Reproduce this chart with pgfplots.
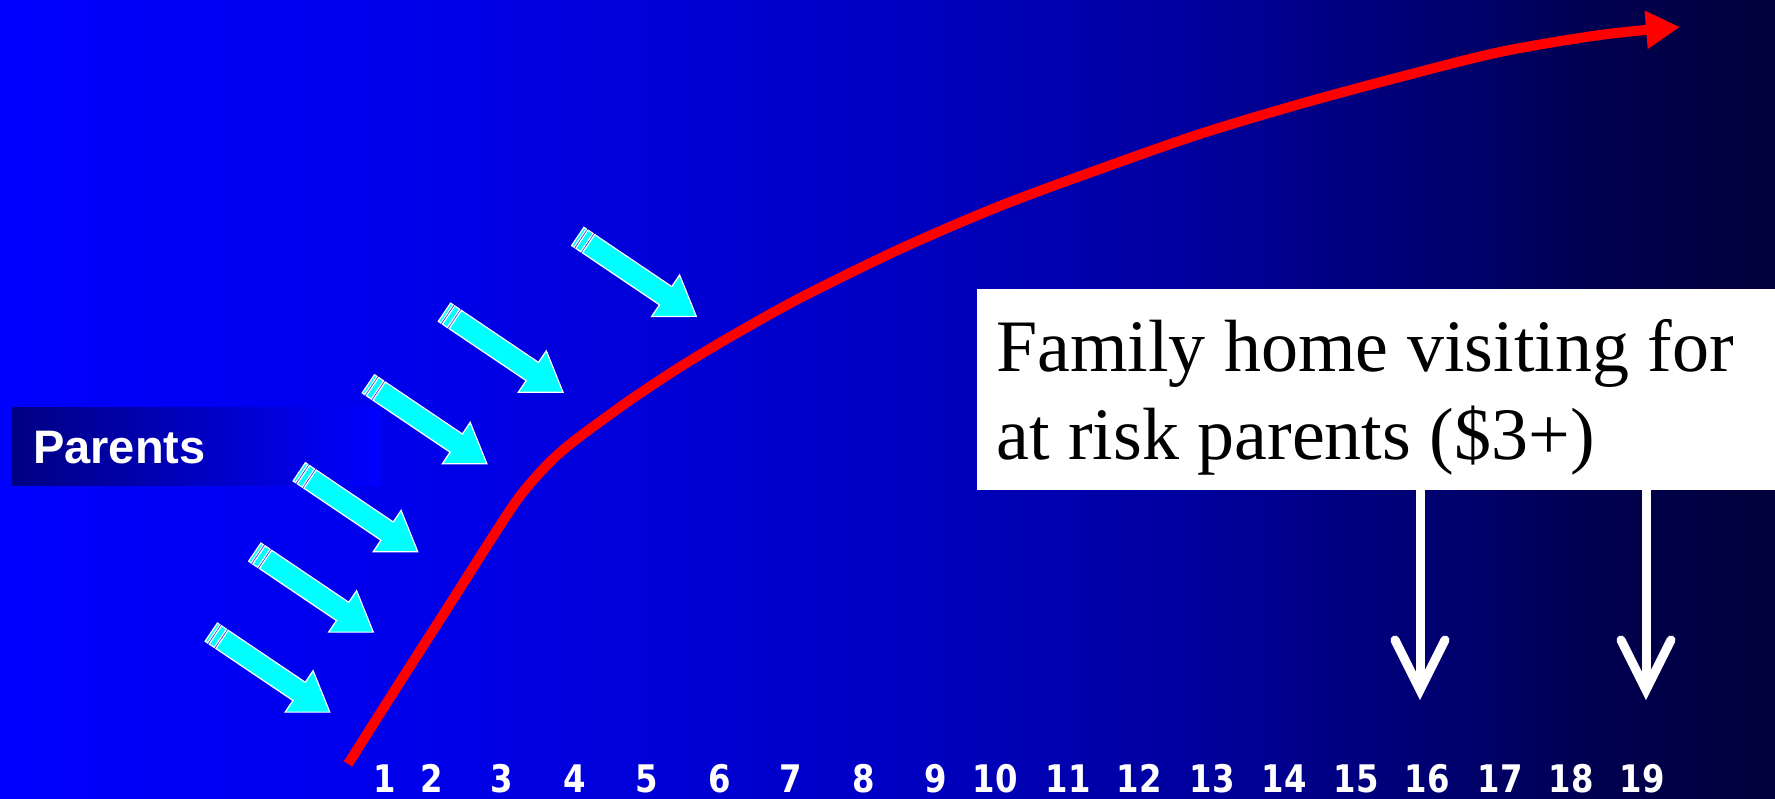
\documentclass[border=0pt]{standalone}
\usepackage{pgfplots}
\pgfplotsset{compat=1.18}
\usetikzlibrary{arrows.meta}
\usepackage{fontspec}
\setmainfont{Liberation Serif}
\newfontfamily\tickfont{DejaVu Sans}
\newfontfamily\labelfont{Liberation Sans}
\newfontfamily\boxfont{Liberation Serif}

% slide background: bright blue on the left fading to near black on the right
\definecolor{bg0}{RGB}{0,0,255}
\definecolor{bg1}{RGB}{0,0,232}
\definecolor{bg2}{RGB}{0,0,195}
\definecolor{bg3}{RGB}{0,0,158}
\definecolor{bg4}{RGB}{0,0,112}
\definecolor{bg5}{RGB}{0,0,80}
\definecolor{bg6}{RGB}{0,0,58}
\definecolor{curvered}{RGB}{255,0,0}
\definecolor{arrowcyan}{RGB}{0,255,255}
\definecolor{boxdark}{RGB}{0,0,130}

\pgfdeclarehorizontalshading{slidebg}{100bp}{%
  color(0bp)=(bg0); color(25bp)=(bg0); color(37.5bp)=(bg1);
  color(50bp)=(bg2); color(58.5bp)=(bg3); color(65.5bp)=(bg4);
  color(70bp)=(bg5); color(75bp)=(bg6); color(100bp)=(bg6)}

% block arrow with two stripes at its tail, tip at the origin
\pgfdeclareplotmark{striped arrow}{%
  \pgfscope
  \pgftransformrotate{-34}%
  \pgfpathmoveto{\pgfqpoint{0pt}{0pt}}%
  \pgfpathlineto{\pgfqpoint{-37pt}{25pt}}%
  \pgfpathlineto{\pgfqpoint{-37pt}{11pt}}%
  \pgfpathlineto{\pgfqpoint{-130pt}{11pt}}%
  \pgfpathlineto{\pgfqpoint{-130pt}{-11pt}}%
  \pgfpathlineto{\pgfqpoint{-37pt}{-11pt}}%
  \pgfpathlineto{\pgfqpoint{-37pt}{-25pt}}%
  \pgfpathclose
  \pgfpathrectanglecorners{\pgfqpoint{-138pt}{-11pt}}{\pgfqpoint{-132pt}{11pt}}%
  \pgfpathrectanglecorners{\pgfqpoint{-143pt}{-11pt}}{\pgfqpoint{-140pt}{11pt}}%
  \pgfusepathqfillstroke
  \endpgfscope
}

\tikzset{pointer/.style={white, line width=9pt},
  pointer head/.style={white, line width=9pt, line join=miter, line cap=round}}

\begin{document}
\begin{tikzpicture}
\begin{axis}[
  scale only axis, width=1775pt, height=798pt,
  xmin=0, xmax=1775, ymin=0, ymax=798,
  axis line style={draw=none}, major tick length=0pt,
  ytick=\empty,
  xtick={385,432,502,575,647,720,791,864,936,995,1068,1139,1212,1284,1356,1427,1500,1571,1642},
  xticklabels={1,2,3,4,5,6,7,8,9,10,11,12,13,14,15,16,17,18,19},
  xticklabel style={font=\tickfont\bfseries\fontsize{38}{42}\selectfont,
    text=white, anchor=base, yshift=6pt, inner sep=0pt, xscale=0.85},
  axis background/.style={shading=slidebg},
  clip=false,
]
% label box on the left
\fill[left color=boxdark, right color=bg0] (axis cs:12,312.3) rectangle (axis cs:381,390.3);
\node[anchor=base west, inner sep=0pt, text=white,
  font=\labelfont\bfseries\fontsize{47}{52}\selectfont] at (axis cs:33,334) {Parents};

% growth curve
\addplot[curvered, line width=10pt, smooth, tension=0.5,
  -{Triangle[length=34pt,width=36pt]}] coordinates {
  (348,34) (400,116) (450,194) (490,257) (517,298) (535,320) (552,338)
  (569,353) (590,369) (612,385) (636,402) (680,431) (730,461) (800,500)
  (900,549) (1000,592) (1100,629) (1200,664) (1300,694)
  (1400,721) (1500,746) (1600,763) (1680,771)
};

% inputs pointing at the curve
\addplot[only marks, mark=striped arrow,
  mark options={fill=arrowcyan, draw=white, line width=1.2pt}] coordinates {
  (696.3,481.6) (563.0,405.8) (486.9,334.2) (417.8,246.2) (373.3,165.9) (329.8,85.9)
};

% programme box
\fill[white] (axis cs:977,308) rectangle (axis cs:1775,509);
\node[anchor=base west, inner sep=0pt, font=\boxfont\fontsize{74}{88}\selectfont]
  at (axis cs:996,426) {Family home visiting for};
\node[anchor=base west, inner sep=0pt, font=\boxfont\fontsize{74}{88}\selectfont]
  at (axis cs:996,338) {at risk parents (\$3+)};

% pointers down to the ages
\draw[pointer] (axis cs:1420,308) -- (axis cs:1420,110);
\draw[pointer head] (axis cs:1395,158) -- (axis cs:1420,108) -- (axis cs:1445,158);
\draw[pointer] (axis cs:1646,308) -- (axis cs:1646,110);
\draw[pointer head] (axis cs:1621,158) -- (axis cs:1646,108) -- (axis cs:1671,158);
\end{axis}
\pgfresetboundingbox
\path[use as bounding box] (current axis.south west) rectangle (current axis.north east);
\end{tikzpicture}
\end{document}
